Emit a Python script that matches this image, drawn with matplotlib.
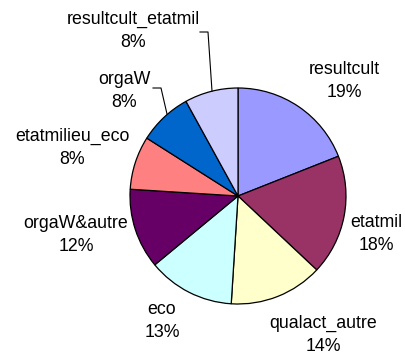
import matplotlib.pyplot as plt

# parts, clockwise from 12 o'clock
labels = ['resultcult', 'etatmil', 'qualact_autre', 'eco', 'orgaW&autre',
          'etatmilieu_eco', 'orgaW', 'resultcult_etatmil']
values = [19, 18, 14, 13, 12, 8, 8, 8]
colors = ['#9999FF', '#993366', '#FFFFCC', '#CCFFFF', '#660066',
          '#FF8080', '#0066CC', '#CCCCFF']

# where each label block is centred (pixel coords, y from the top)
label_xy = [(344, 81), (376, 234), (323, 335), (162, 321), (76, 235),
            (72, 148), (124, 91), (133, 31)]

plt.rcParams['font.family'] = ['Liberation Sans', 'DejaVu Sans']

W, H = 405, 356
fig = plt.figure(figsize=(W / 100, H / 100), dpi=100)
ax = fig.add_axes([0, 0, 1, 1])

ax.pie(values, colors=colors, startangle=90, counterclock=False,
       center=(238, H - 196), radius=108, frame=True,
       wedgeprops=dict(edgecolor='black', linewidth=0.9))
ax.set_xlim(0, W)
ax.set_ylim(0, H)
ax.set_aspect('equal')
ax.axis('off')

for name, v, (x, y) in zip(labels, values, label_xy):
    ax.text(x, H - y, f'{name}\n{v}%', ha='center', va='center',
            fontsize=12.8, linespacing=1.5, color='black')

# leader lines for the two small slices at the top
ax.plot([200, 208, 212], [H - 32, H - 32, H - 91], color='black', lw=0.8)
ax.plot([153, 161, 167], [H - 88, H - 88, H - 114], color='black', lw=0.8)

fig.savefig('out.png', dpi=100)
